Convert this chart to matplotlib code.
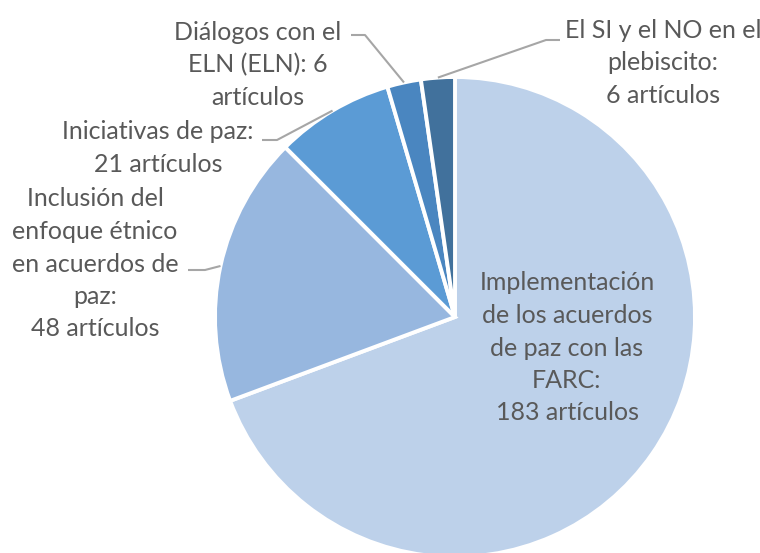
import matplotlib.pyplot as plt
import numpy as np

plt.rcParams['font.family'] = ['Lato', 'DejaVu Sans']

# data
temas = ["Implementación\nde los acuerdos\nde paz con las\nFARC:",
         "Inclusión del\nenfoque étnico\nen acuerdos de\npaz:",
         "Iniciativas de paz:",
         "Diálogos con el\nELN (ELN): 6",
         "El SI y el NO en el\nplebiscito:"]
articulos = [183, 48, 21, 6, 6]
colores = ['#BDD1EA', '#97B7DF', '#5B9BD5', '#4A86C0', '#41719C']

# label placement (pixels, y from top) and leader elbows
lab_pos = [(567, 348), (95, 264), (158, 148), (258, 65), (663, 63)]
elbow = [None, (205, 270), (277, 140), (365, 35), (546, 40)]
lab_end = [None, (188, 270), (262, 140), (351, 35), (560, 40)]

W, H = 760, 553
fig = plt.figure(figsize=(W / 100, H / 100), dpi=100)
ax = fig.add_axes([0, 0, 1, 1])

cx, cy, r = 455, H - 317, 240
wedges, _ = ax.pie(articulos, colors=colores, startangle=90, counterclock=False,
                   center=(cx, cy), radius=r, frame=True,
                   wedgeprops=dict(edgecolor='white', linewidth=2.8))
ax.set_xlim(0, W)
ax.set_ylim(0, H)
ax.axis('off')

txt_col = '#595959'
for i, (w, t, n) in enumerate(zip(wedges, temas, articulos)):
    lx, ly = lab_pos[i]
    if i == 3:
        label = t + "\nartículos"
    else:
        label = t + "\n%d artículos" % n
    ax.text(lx, H - ly, label, ha='center', va='center', fontsize=18,
            color=txt_col, linespacing=1.5)
    if elbow[i] is not None:
        ang = np.deg2rad((w.theta1 + w.theta2) / 2)
        px = cx + r * np.cos(ang)
        py = cy + r * np.sin(ang)
        ex, ey = elbow[i]
        sx, sy = lab_end[i]
        ax.plot([sx, ex, px], [H - sy, H - ey, py], color='#A6A6A6', lw=1.5,
                solid_capstyle='butt')

fig.savefig('out.png', dpi=100)
